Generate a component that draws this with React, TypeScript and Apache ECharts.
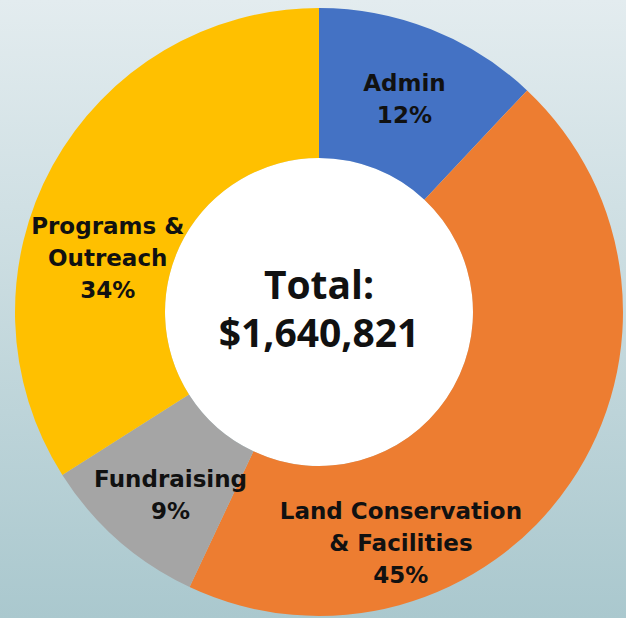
import React, { useEffect, useRef } from "react";
import * as echarts from "echarts";

const categories = ["Admin", "Land Conservation\n& Facilities", "Fundraising", "Programs &\nOutreach"];
const percents = [12, 45, 9, 34];
const colors = ["#4472C4", "#ED7D31", "#A5A5A5", "#FFC000"];
const totalLabel = "Total:";
const totalValue = "$1,640,821";

export default function App() {
  const ref = useRef<HTMLDivElement>(null);
  useEffect(() => {
    document.body.style.margin = "0";
    const chart = echarts.init(ref.current!, null, { renderer: "svg" });
    const cx = 319;
    const cy = 312;
    const labelShift: Record<number, [number, number]> = {
      0: [0, 3],
      1: [-110, 101],
      2: [5, 9],
      3: [-8, 58],
    };
    chart.setOption({
      animation: false,
      backgroundColor: new echarts.graphic.LinearGradient(0, 0, 0, 1, [
        { offset: 0, color: "#E3ECEF" },
        { offset: 1, color: "#AAC8CE" },
      ]),
      graphic: [
        {
          type: "circle",
          shape: { cx, cy, r: 154 },
          style: { fill: "#FFFFFF" },
          z: 1,
        },
        {
          type: "text",
          x: cx,
          y: cy - 29,
          z: 10,
          style: {
            text: totalLabel,
            fill: "#111111",
            font: "bold 39px 'Open Sans'",
            align: "center",
            verticalAlign: "middle",
          },
        },
        {
          type: "text",
          x: cx,
          y: cy + 19,
          z: 10,
          style: {
            text: totalValue,
            fill: "#111111",
            font: "bold 39px 'Open Sans'",
            align: "center",
            verticalAlign: "middle",
          },
        },
      ],
      series: [
        {
          type: "pie",
          center: [cx, cy],
          radius: [154, 304],
          startAngle: 90,
          clockwise: true,
          silent: true,
          z: 2,
          label: {
            show: true,
            position: "inside",
            formatter: (p: any) => `${p.name}\n${p.value}%`,
            color: "#111111",
            fontFamily: "DejaVu Sans",
            fontWeight: "bold",
            fontSize: 23,
            lineHeight: 32,
            align: "center",
          },
          labelLine: { show: false },
          labelLayout: (params: any) => {
            const s = labelShift[params.dataIndex] || [0, 0];
            return { dx: s[0], dy: s[1] };
          },
          itemStyle: { borderWidth: 0 },
          data: categories.map((name, i) => ({
            name,
            value: percents[i],
            itemStyle: { color: colors[i] },
          })),
        },
      ],
    });
    return () => chart.dispose();
  }, []);
  return <div ref={ref} style={{ width: 626, height: 618 }} />;
}
